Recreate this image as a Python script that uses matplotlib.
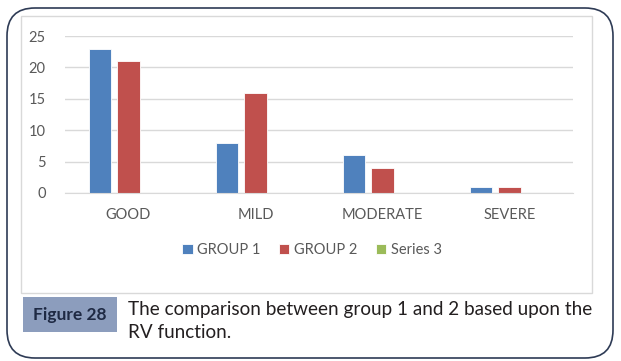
import matplotlib
matplotlib.use('Agg')
import matplotlib.pyplot as plt
from matplotlib.patches import FancyBboxPatch, Rectangle
import numpy as np

categories = ['GOOD', 'MILD', 'MODERATE', 'SEVERE']
group1 = [23, 8, 6, 1]
group2 = [21, 16, 4, 1]
series3 = [0, 0, 0, 0]
series_names = ['GROUP 1', 'GROUP 2', 'Series 3']
colors = ['#4F81BD', '#C0504D', '#9BBB59']
yticks = [0, 5, 10, 15, 20, 25]

W, H = 621, 361
plt.rcParams['font.family'] = ['Lato', 'DejaVu Sans']

fig = plt.figure(figsize=(W / 100, H / 100), dpi=100)

# outer rounded frame
fig.patches.append(FancyBboxPatch((7 / W, 3 / H), 606 / W, 350 / H,
                                  boxstyle='round,pad=0,rounding_size=0.045',
                                  transform=fig.transFigure, fill=False,
                                  edgecolor='#2E3B55', linewidth=1.2,
                                  mutation_aspect=W / H))
# chart area frame
fig.patches.append(Rectangle((21 / W, (H - 293) / H), 571 / W, 277 / H,
                             transform=fig.transFigure, fill=False,
                             edgecolor='#D9D9D9', linewidth=1))

ax = fig.add_axes([65 / W, (H - 193) / H, 508 / W, 157 / H])
x = np.arange(len(categories))
width = 0.175
step = 0.222
for i, (vals, name, c) in enumerate(zip([group1, group2, series3], series_names, colors)):
    ax.bar(x + (i - 1) * step, vals, width, color=c, label=name,
           edgecolor='white', linewidth=0.6)

ax.set_xlim(-0.5, len(categories) - 0.5)
ax.set_ylim(0, 25)
ax.set_yticks(yticks)
ax.set_xticks(x)
ax.set_xticklabels(categories)
ax.tick_params(axis='both', length=0, labelsize=10.5, colors='#595959')
ax.tick_params(axis='x', pad=11)
ax.tick_params(axis='y', pad=14)
ax.grid(axis='y', color='#D9D9D9', linewidth=1)
ax.set_axisbelow(True)
for s in ['top', 'right', 'left']:
    ax.spines[s].set_visible(False)
ax.spines['bottom'].set_color('#D9D9D9')

handles, labels = ax.get_legend_handles_labels()
fig.legend(handles, labels, loc='center', ncol=3, frameon=False,
           bbox_to_anchor=(312 / W, (H - 250) / H), fontsize=10.5,
           labelcolor='#595959', handlelength=0.7, handleheight=0.7,
           handletextpad=0.3, columnspacing=1.3)

# caption
fig.patches.append(Rectangle((23 / W, (H - 332) / H), 94 / W, 35 / H,
                             transform=fig.transFigure, facecolor='#8C9DBD',
                             edgecolor='none'))
fig.text(70 / W, (H - 315) / H, 'Figure 28', ha='center', va='center',
         fontsize=12.5, fontweight='bold', color='#1F2A44')
fig.text(128 / W, (H - 309) / H, 'The comparison between group 1 and 2 based upon the',
         ha='left', va='center', fontsize=13.6, color='#231F20')
fig.text(128 / W, (H - 332) / H, 'RV function.',
         ha='left', va='center', fontsize=13.6, color='#231F20')

fig.savefig('out.png', dpi=100)
